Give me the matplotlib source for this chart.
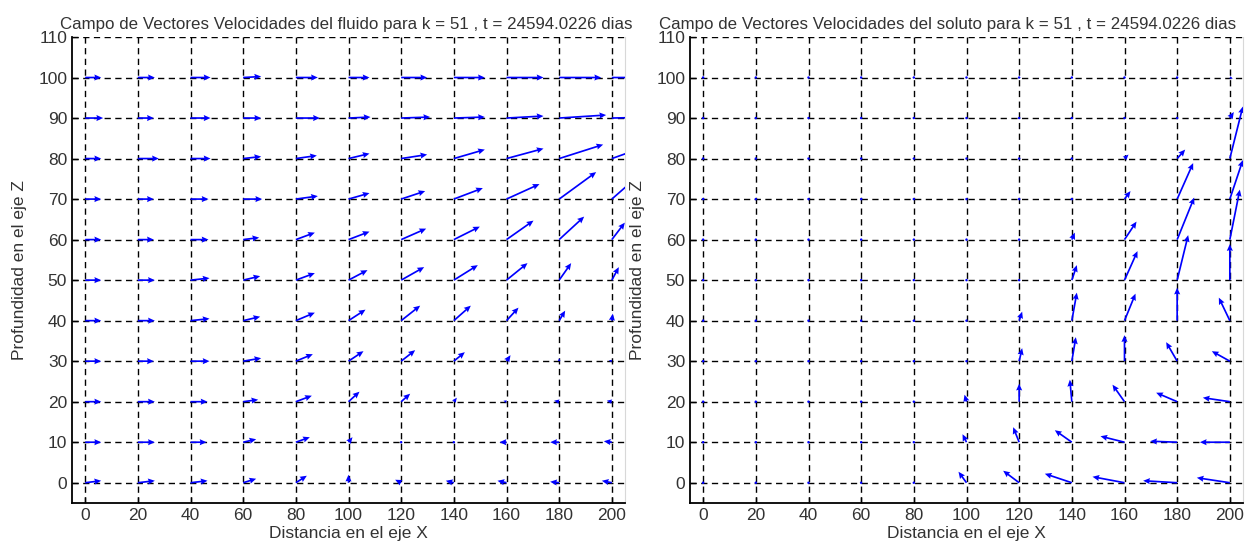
import numpy as np
import matplotlib
matplotlib.use('Agg')
import matplotlib.pyplot as plt

plt.rcParams['font.family'] = ['Liberation Sans', 'DejaVu Sans']

# grid of the field: distance X and depth Z
x_pos = list(range(0, 201, 20))
z_pos = list(range(0, 101, 10))

# velocity readings (screen units), rows z = 0..100, columns x = 0..200
u_fluido = [
    [16, 17, 17, 13, 11, 0, -6, -8, -9, -9, -10],
    [16, 17, 16, 13, 14, 4, 1, 1, -7, -9, -8],
    [16, 17, 17, 15, 16, 11, 9, 3, -3, -5, -5],
    [16, 16, 19, 18, 17, 15, 14, 11, 4, 0, -3],
    [16, 17, 19, 17, 19, 17, 19, 17, 12, 6, 1],
    [16, 17, 19, 17, 19, 19, 23, 24, 21, 12, 7],
    [16, 16, 18, 16, 19, 21, 25, 26, 27, 25, 13],
    [16, 16, 18, 19, 22, 21, 24, 29, 33, 37, 40],
    [16, 21, 20, 18, 21, 21, 26, 31, 37, 44, 45],
    [18, 16, 20, 18, 24, 22, 29, 31, 37, 47, 48],
    [16, 17, 20, 18, 22, 21, 26, 31, 37, 42, 45],
]
w_fluido = [
    [2, 2, 2, 4, 7, 8, 3, 2, 2, 1, 2],
    [0, 0, 0, 3, 5, 5, 2, 1, 0, 0, 1],
    [0, 0, 0, 2, 6, 10, 8, 4, 1, 1, 1],
    [0, 0, 0, 3, 7, 10, 11, 9, 6, 3, 1],
    [0, 0, 2, 4, 8, 11, 15, 15, 13, 10, 7],
    [0, 0, 2, 4, 7, 10, 13, 15, 17, 17, 13],
    [0, 0, 0, 2, 7, 8, 11, 13, 19, 23, 17],
    [0, 0, 0, 0, 3, 6, 8, 11, 15, 27, 35],
    [0, 0, 0, 2, 3, 5, 4, 9, 10, 14, 16],
    [0, 0, 0, 0, 0, 1, 1, 1, 2, 3, 1],
    [0, 0, 0, 1, 0, 0, 0, 0, 0, 0, 0],
]

u_soluto = [
    [1, 1, 2, 1, 0, -8, -16, -27, -32, -34, -33],
    [1, 0, 1, 0, 1, -4, -6, -17, -24, -27, -30],
    [1, 0, 2, 1, 1, -2, 0, -2, -12, -21, -27],
    [0, 0, 1, 0, 0, 0, 3, 4, 0, -11, -18],
    [1, 0, 1, 0, 1, 1, 3, 5, 11, 0, -11],
    [0, 1, 0, 1, 0, 1, 1, 5, 13, 11, 0],
    [1, 0, 1, 0, 1, 0, 1, 3, 12, 17, 10],
    [0, 1, 0, 1, 0, 1, 1, 1, 6, 16, 13],
    [1, 0, 1, 0, 1, 0, 1, 1, 4, 8, 13],
    [1, 1, 0, 1, 0, 1, 1, 1, 1, 1, 4],
    [0, 1, 1, 0, 1, 1, 1, 0, 1, 1, 3],
]
w_soluto = [
    [0, 0, 0, 0, 2, 11, 12, 9, 6, 2, 5],
    [0, 1, 0, 1, 1, 8, 15, 12, 6, 1, 0],
    [0, 1, 0, 0, 0, 7, 18, 22, 17, 9, 4],
    [1, 1, 0, 1, 1, 1, 13, 24, 26, 19, 10],
    [0, 1, 0, 1, 0, 1, 9, 28, 27, 33, 23],
    [1, 0, 1, 0, 1, 0, 1, 15, 29, 45, 36],
    [0, 1, 0, 1, 0, 1, 0, 7, 18, 42, 50],
    [1, 0, 1, 0, 1, 0, 1, 1, 8, 36, 39],
    [0, 1, 0, 1, 0, 1, 0, 1, 4, 9, 52],
    [0, 0, 1, 0, 1, 0, 1, 0, 1, 1, 6],
    [1, 0, 0, 1, 0, 0, 0, 1, 0, 1, -1],
]

titulos = [
    'Campo de Vectores Velocidades del fluido para k = 51 , t = 24594.0226 dias',
    'Campo de Vectores Velocidades del soluto para k = 51 , t = 24594.0226 dias',
]
xlabel = 'Distancia en el eje X'
ylabel = 'Profundidad en el eje Z'

text_color = '#333333'


def draw_panel(ax, u, w, title, title_x):
    X, Z = np.meshgrid(x_pos, z_pos)
    ax.set_xlim(-5, 205)
    ax.set_ylim(-5, 110)
    ax.set_xticks(range(0, 201, 20))
    ax.set_yticks(range(0, 111, 10))
    ax.grid(True, color='black', linestyle=(0, (4.5, 3.2)), linewidth=1.0)
    ax.set_axisbelow(True)
    ax.quiver(X, Z, np.array(u), np.array(w), color='#0000ff',
              angles='uv', scale_units='dots', scale=1, units='dots',
              width=1.7, headwidth=3.6, headlength=4, headaxislength=3.6,
              minlength=1.6, zorder=3)
    ax.spines['top'].set_visible(False)
    ax.spines['right'].set_color('#d8d8d8')
    ax.spines['left'].set_linewidth(1.3)
    ax.spines['bottom'].set_linewidth(1.3)
    ax.tick_params(direction='in', length=4, width=1, labelsize=12.5,
                   labelcolor=text_color, right=False, top=False)
    ax.set_title(title, fontsize=12.2, color=text_color, pad=6, x=title_x)
    ax.set_xlabel(xlabel, fontsize=12.5, color=text_color, labelpad=2)
    ax.set_ylabel(ylabel, fontsize=12.5, color=text_color, labelpad=8)


fig = plt.figure(figsize=(12.57, 5.5), dpi=100)
ax1 = fig.add_axes([72 / 1257, 47 / 550, 553 / 1257, 466 / 550])
ax2 = fig.add_axes([690 / 1257, 47 / 550, 553 / 1257, 466 / 550])

draw_panel(ax1, u_fluido, w_fluido, titulos[0], 0.496)
draw_panel(ax2, u_soluto, w_soluto, titulos[1], 0.465)

fig.savefig('out.png', dpi=100)
